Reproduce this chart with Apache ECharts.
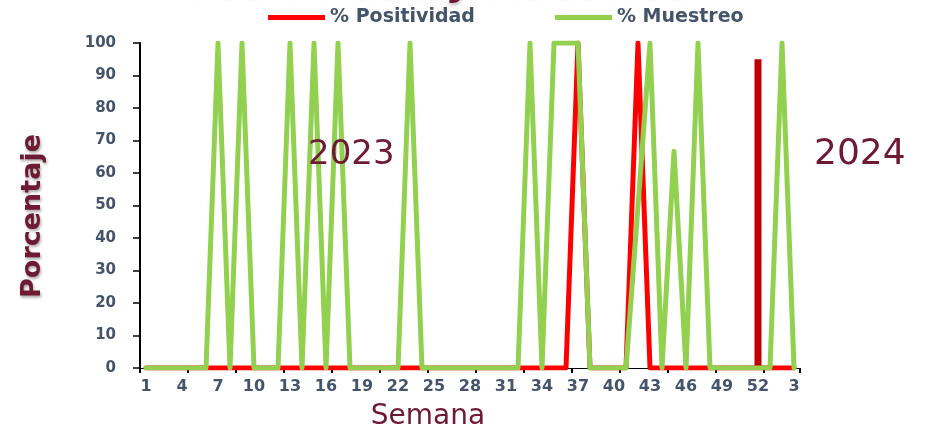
<!DOCTYPE html>
<html><head><meta charset="utf-8">
<script src="https://cdn.jsdelivr.net/npm/echarts@6/dist/echarts.min.js"></script>
<style>html,body{margin:0;padding:0;background:#fff}#c{width:925px;height:431px}</style>
</head><body><div id="c"></div>
<script>
// Semanas epidemiológicas: 2023 (1-52) y 2024 (1-3)
const semanas = ['1','2','3','4','5','6','7','8','9','10','11','12','13','14','15','16','17','18','19','20',
  '21','22','23','24','25','26','27','28','29','30','31','32','33','34','35','36','37','38','39','40',
  '41','42','43','44','45','46','47','48','49','50','51','52','1','2','3'];

// % Positividad (línea roja)
const positividad = [0,0,0,0,0,0,0,0,0,0, 0,0,0,0,0,0,0,0,0,0,
  0,0,0,0,0,0,0,0,0,0, 0,0,0,0,0,0,100,0,0,0, 0,100,0,0,0,0,0,0,0,0, 0,0, 0,0,0];

// % Positividad semana 52 (barra roja oscura)
const positividadS52 = [null,null,null,null,null,null,null,null,null,null, null,null,null,null,null,null,null,null,null,null,
  null,null,null,null,null,null,null,null,null,null, null,null,null,null,null,null,null,null,null,null,
  null,null,null,null,null,null,null,null,null,null, null,95, null,null,null];

// % Muestreo (línea verde)
const muestreo = [0,0,0,0,0,0,100,0,100,0, 0,0,100,0,100,0,100,0,0,0,
  0,0,100,0,0,0,0,0,0,0, 0,0,100,0,100,100,100,0,0,0, 0,50,100,0,66.7,0,100,0,0,0, 0,0, 0,100,0];

const serieNames = ['% Positividad','% Muestreo'];

const maroon = '#6E1A33';
const labelColor = '#44546A';
const FONT = 'DejaVu Sans';

const chart = echarts.init(document.getElementById('c'), null, {renderer:'canvas'});
chart.setOption({
  animation:false,
  backgroundColor:'#fff',
  textStyle:{fontFamily:FONT},
  grid:{left:140,right:125,top:43,bottom:63,containLabel:false,outerBoundsMode:'none'},
  legend:{
    data:serieNames, left:268, top:8, padding:0, itemGap:80,
    itemWidth:57, itemHeight:5, icon:'rect',
    textStyle:{fontSize:19,fontWeight:'bold',color:labelColor,fontFamily:FONT}
  },
  xAxis:{
    type:'category', data:semanas, boundaryGap:true,
    axisLine:{show:true,lineStyle:{color:'#000',width:1}},
    axisTick:{show:true,interval:3,length:5,lineStyle:{color:'#000',width:2}},
    axisLabel:{interval:2,margin:11,fontSize:16,fontWeight:'bold',color:labelColor,fontFamily:FONT},
    splitLine:{show:false}
  },
  yAxis:{
    type:'value', min:0, max:100, interval:10,
    axisLine:{show:true,lineStyle:{color:'#000',width:2}},
    axisTick:{show:true,length:7,lineStyle:{color:'#000',width:1.5}},
    axisLabel:{margin:24,fontSize:15,fontWeight:'bold',color:labelColor,fontFamily:FONT},
    splitLine:{show:false}
  },
  series:[
    {name:serieNames[0],type:'line',data:positividad,showSymbol:false,symbol:'none',
     itemStyle:{color:'#FF0000'},
     lineStyle:{color:'#FF0000',width:5,join:'round',cap:'round'},z:2},
    {name:'S52',type:'bar',data:positividadS52,barWidth:7,itemStyle:{color:'#C00000'},z:3},
    {name:serieNames[1],type:'line',data:muestreo,showSymbol:false,symbol:'none',
     itemStyle:{color:'#92D050'},
     lineStyle:{color:'#92D050',width:5,join:'round',cap:'round'},z:4}
  ],
  graphic:[
    {type:'text',x:187,y:-15,z:10,
     style:{text:'{g|Positividad }{r|y}{g| Muestreo}',verticalAlign:'middle',
       rich:{
         g:{fontSize:39,fontWeight:'bold',fill:'#8C8C8C',fontFamily:FONT,
            textShadowColor:'rgba(0,0,0,0.3)',textShadowBlur:4,textShadowOffsetY:2},
         r:{fontSize:39,fontWeight:'bold',fill:maroon,fontFamily:FONT,
            textShadowColor:'rgba(0,0,0,0.3)',textShadowBlur:4,textShadowOffsetY:2}
       }}},
    {type:'text',x:33,y:216,rotation:Math.PI/2,z:10,
     style:{text:'Porcentaje',fontSize:27,fontWeight:'bold',fill:maroon,fontFamily:FONT,
       align:'center',verticalAlign:'middle',
       textShadowColor:'rgba(0,0,0,0.35)',textShadowBlur:3,textShadowOffsetX:1,textShadowOffsetY:2}},
    {type:'text',x:428,y:417,z:10,
     style:{text:'Semana',fontSize:28,fill:maroon,fontFamily:FONT,align:'center',verticalAlign:'middle'}},
    {type:'text',x:308,y:155,z:10,
     style:{text:'2023',fontSize:34,fill:maroon,fontFamily:FONT,verticalAlign:'middle'}},
    {type:'text',x:814,y:155,z:10,
     style:{text:'2024',fontSize:36,fill:maroon,fontFamily:FONT,verticalAlign:'middle'}}
  ]
});
</script></body></html>
